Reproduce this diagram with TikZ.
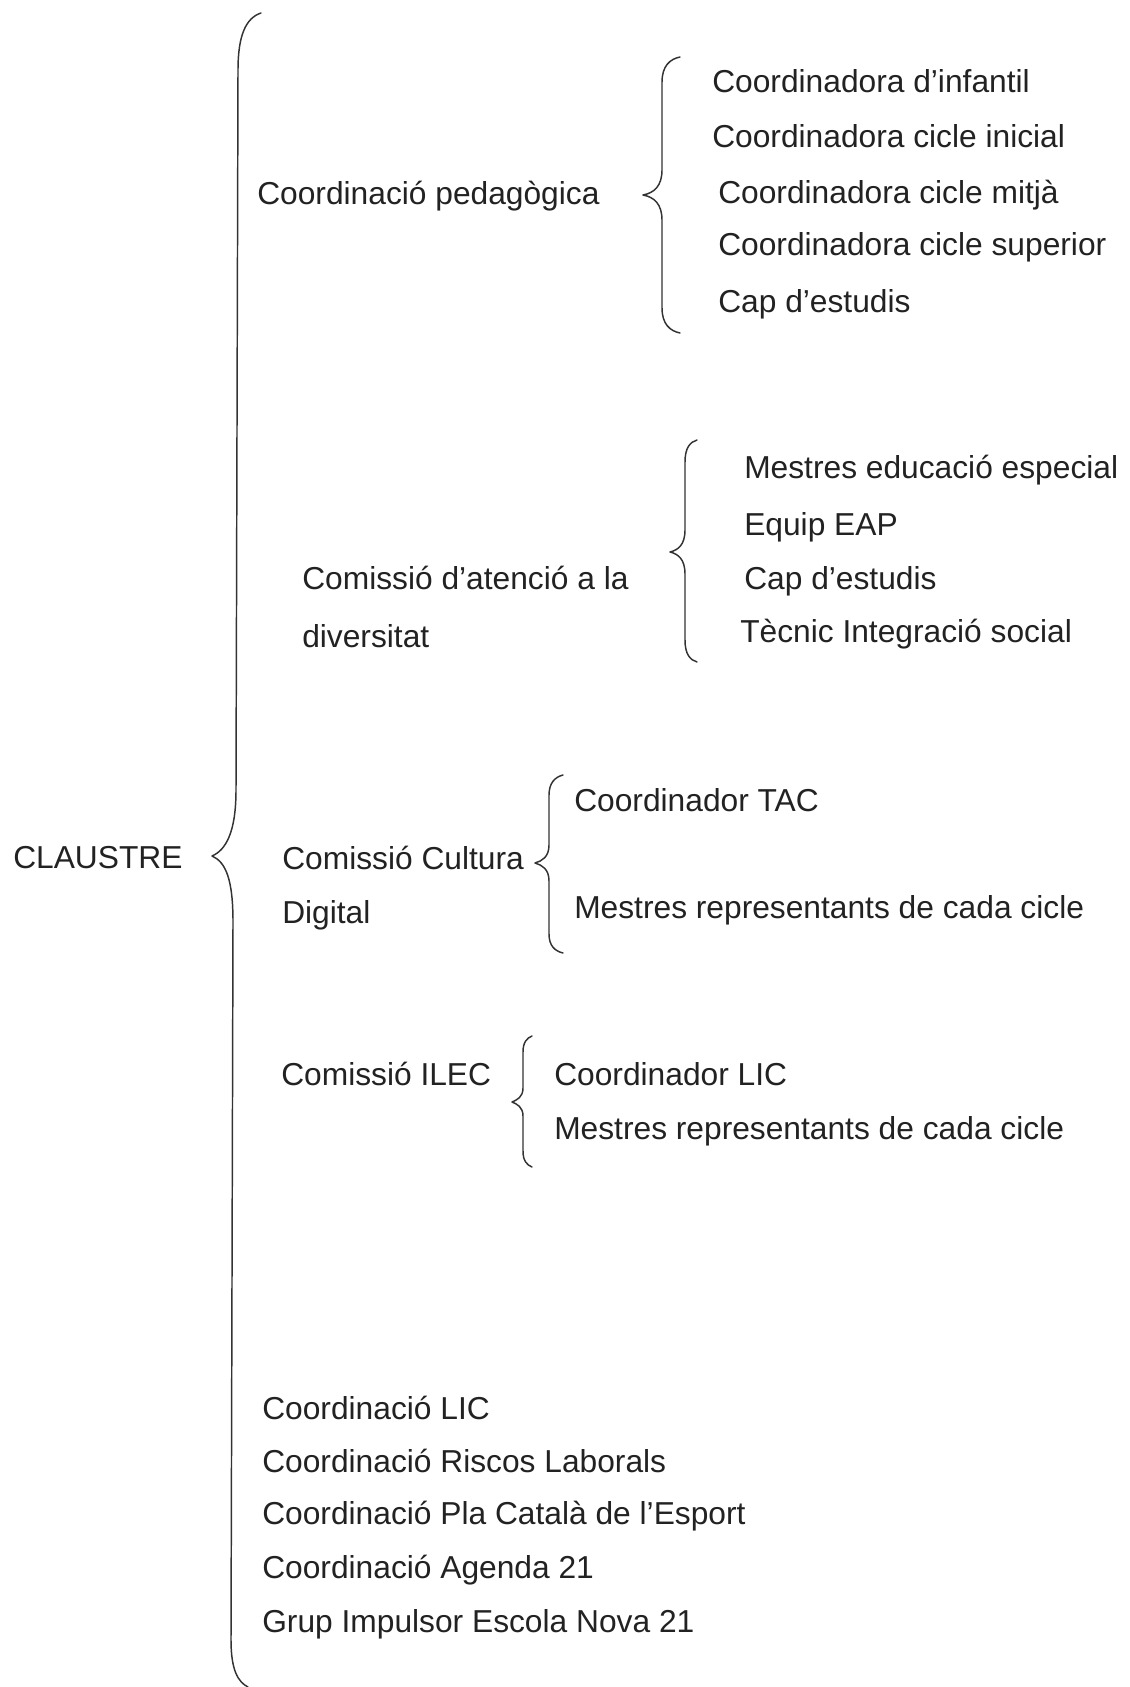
\documentclass[tikz,border=0pt]{standalone}
\usepackage{fontspec}
\setmainfont{Liberation Sans}
\definecolor{ink}{HTML}{222222}
\definecolor{brc}{HTML}{333333}
\begin{document}
\begin{tikzpicture}[x=0.75pt,y=-0.75pt,
  lbl/.style={anchor=base west,inner sep=0pt,text=ink,font=\fontsize{23.8pt}{28pt}\selectfont},
  brace/.style={draw=brc,line width=1.1pt,line cap=round,line join=round}]
\useasboundingbox[fill=white] (0,0) rectangle (1130,1687);

% root
\node[lbl] (claustre) at (13,868) {CLAUSTRE};

% main brace
\path[brace] (261,13) .. controls (246,18) and (238,35) .. (238,70) -- (236,790)
  .. controls (236,832) and (226,850) .. (212,856)
  .. controls (226,862) and (233,880) .. (233,922) -- (231,1640)
  .. controls (231,1670) and (238,1682) .. (248,1687);

% group 1
\node[lbl] (cped) at (257,205) {Coordinació pedagògica};
\path[brace] (680,57) .. controls (670,59) and (662,66) .. (662,82) -- (662,170)
  .. controls (662,186) and (654,193) .. (643,195)
  .. controls (654,197) and (662,204) .. (662,220) -- (662,308)
  .. controls (662,324) and (670,331) .. (680,333);
\node[lbl] (c1a) at (712,93) {Coordinadora d’infantil};
\node[lbl] (c1b) at (712,148) {Coordinadora cicle inicial};
\node[lbl] (c1c) at (718,204) {Coordinadora cicle mitjà};
\node[lbl] (c1d) at (718,256) {Coordinadora cicle superior};
\node[lbl] (c1e) at (718,312) {Cap d’estudis};

% group 2
\node[lbl] (cad1) at (302,589) {Comissió d’atenció a la};
\node[lbl] (cad2) at (302,647) {diversitat};
\path[brace] (697,440) .. controls (690,442) and (685,448) .. (685,462) -- (685,530)
  .. controls (685,545) and (678,550) .. (670,552)
  .. controls (678,554) and (685,559) .. (685,574) -- (685,640)
  .. controls (685,654) and (690,660) .. (697,662);
\node[lbl] (c2a) at (744,478) {Mestres educació especial};
\node[lbl] (c2b) at (744,535) {Equip EAP};
\node[lbl] (c2c) at (744,589) {Cap d’estudis};
\node[lbl] (c2d) at (740,642) {Tècnic Integració social};

% group 3
\node[lbl] (ccd1) at (282,869) {Comissió Cultura};
\node[lbl] (ccd2) at (282,923) {Digital};
\path[brace] (563,775) .. controls (555,777) and (549,783) .. (549,795) -- (549,845)
  .. controls (549,857) and (542,861) .. (535,863)
  .. controls (542,865) and (549,869) .. (549,881) -- (549,934)
  .. controls (549,946) and (555,951) .. (563,953);
\node[lbl] (c3a) at (574,811) {Coordinador TAC};
\node[lbl] (c3b) at (574,918) {Mestres representants de cada cicle};

% group 4
\node[lbl] (cil) at (281,1085) {Comissió ILEC};
\path[brace] (532,1036) .. controls (527,1038) and (523,1042) .. (523,1052) -- (523,1088)
  .. controls (523,1097) and (517,1100) .. (512,1102)
  .. controls (517,1104) and (523,1107) .. (523,1116) -- (523,1151)
  .. controls (523,1161) and (527,1165) .. (532,1167);
\node[lbl] (c4a) at (554,1085) {Coordinador LIC};
\node[lbl] (c4b) at (554,1139) {Mestres representants de cada cicle};

% group 5
\node[lbl] (g5a) at (262,1419) {Coordinació LIC};
\node[lbl] (g5b) at (262,1472) {Coordinació Riscos Laborals};
\node[lbl] (g5c) at (262,1524) {Coordinació Pla Català de l’Esport};
\node[lbl] (g5d) at (262,1578) {Coordinació Agenda 21};
\node[lbl] (g5e) at (262,1632) {Grup Impulsor Escola Nova 21};
\end{tikzpicture}
\end{document}
